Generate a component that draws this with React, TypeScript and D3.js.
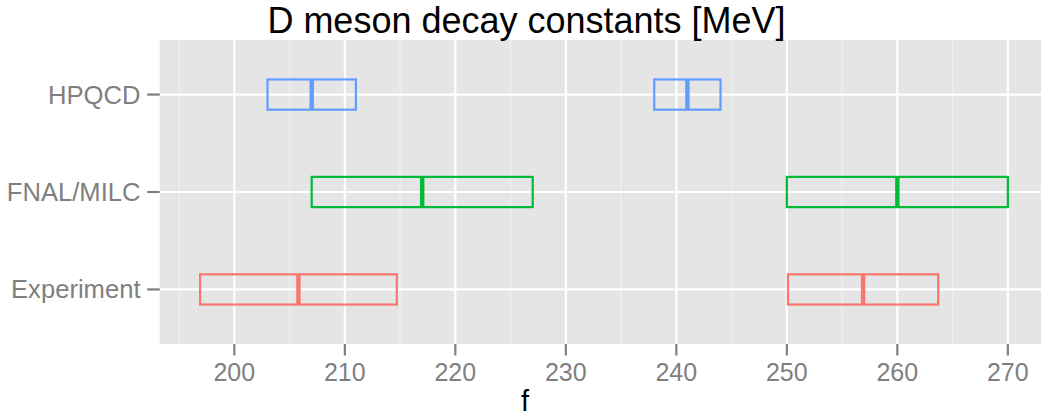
import { useEffect, useRef } from 'react';
import * as d3 from 'd3';

const categories = ['Experiment', 'FNAL/MILC', 'HPQCD'];
const colors = ['#F8766D', '#00BA38', '#619CFF'];

// f_D and f_Ds: central value and error per source
const fdCentral = [205.8, 217, 207];
const fdError = [8.9, 10, 4];
const fdsCentral = [256.9, 260, 241];
const fdsError = [6.8, 10, 3];

const xTicks = [200, 210, 220, 230, 240, 250, 260, 270];
const xMinorTicks = [195, 205, 215, 225, 235, 245, 255, 265];

interface Bar {
  cat: string;
  color: string;
  mid: number;
  lo: number;
  hi: number;
}

export default function App() {
  const svgRef = useRef<SVGSVGElement>(null);

  useEffect(() => {
    if (!svgRef.current) return;
    const width = 1041;
    const height = 419;
    const left = 159.7;
    const top = 40;
    const bottom = 344;

    const bars: Bar[] = [];
    categories.forEach((cat, i) => {
      bars.push({ cat, color: colors[i], mid: fdCentral[i], lo: fdCentral[i] - fdError[i], hi: fdCentral[i] + fdError[i] });
      bars.push({ cat, color: colors[i], mid: fdsCentral[i], lo: fdsCentral[i] - fdsError[i], hi: fdsCentral[i] + fdsError[i] });
    });

    const lo = d3.min(bars, (d) => d.lo)!;
    const hi = d3.max(bars, (d) => d.hi)!;
    const pad = (hi - lo) * 0.05;

    const x = d3.scaleLinear()
      .domain([lo - pad, hi + pad])
      .range([left, left + (hi - lo + 2 * pad) * 11.05]);

    const y = d3.scalePoint<string>()
      .domain(categories)
      .range([bottom, top])
      .padding(0.56);

    const boxH = y.step() * 0.31;

    const svg = d3.select(svgRef.current);
    svg.selectAll('*').remove();
    svg.attr('width', width).attr('height', height);

    svg.append('rect')
      .attr('width', width).attr('height', height).attr('fill', '#fff');

    svg.append('rect')
      .attr('x', left).attr('y', top)
      .attr('width', x.range()[1] - left).attr('height', bottom - top)
      .attr('fill', '#E5E5E5');

    const g = svg.append('g');

    g.selectAll('line.minor')
      .data(xMinorTicks)
      .join('line')
      .attr('x1', (d) => x(d)).attr('x2', (d) => x(d))
      .attr('y1', top).attr('y2', bottom)
      .attr('stroke', '#F2F2F2').attr('stroke-width', 1);

    g.selectAll('line.majorx')
      .data(xTicks)
      .join('line')
      .attr('x1', (d) => x(d)).attr('x2', (d) => x(d))
      .attr('y1', top).attr('y2', bottom)
      .attr('stroke', '#fff').attr('stroke-width', 2.2);

    g.selectAll('line.majory')
      .data(categories)
      .join('line')
      .attr('x1', left).attr('x2', x.range()[1])
      .attr('y1', (d) => y(d)!).attr('y2', (d) => y(d)!)
      .attr('stroke', '#fff').attr('stroke-width', 2.2);

    const bg = g.selectAll('g.bar')
      .data(bars)
      .join('g');

    bg.append('rect')
      .attr('x', (d) => x(d.lo))
      .attr('y', (d) => y(d.cat)! - boxH / 2)
      .attr('width', (d) => x(d.hi) - x(d.lo))
      .attr('height', boxH)
      .attr('fill', 'none')
      .attr('stroke', (d) => d.color)
      .attr('stroke-width', 2.2);

    bg.append('line')
      .attr('x1', (d) => x(d.mid)).attr('x2', (d) => x(d.mid))
      .attr('y1', (d) => y(d.cat)! - boxH / 2)
      .attr('y2', (d) => y(d.cat)! + boxH / 2)
      .attr('stroke', (d) => d.color)
      .attr('stroke-width', 4.4);

    // x axis
    const xa = svg.append('g');
    xa.selectAll('line')
      .data(xTicks)
      .join('line')
      .attr('x1', (d) => x(d)).attr('x2', (d) => x(d))
      .attr('y1', bottom).attr('y2', bottom + 11.5)
      .attr('stroke', '#7F7F7F').attr('stroke-width', 2.2);
    xa.selectAll('text')
      .data(xTicks)
      .join('text')
      .attr('x', (d) => x(d)).attr('y', 381)
      .attr('text-anchor', 'middle')
      .attr('font-size', 25)
      .attr('fill', '#7F7F7F')
      .text((d) => d);

    // y axis
    const ya = svg.append('g');
    ya.selectAll('line')
      .data(categories)
      .join('line')
      .attr('x1', left - 12.5).attr('x2', left)
      .attr('y1', (d) => y(d)!).attr('y2', (d) => y(d)!)
      .attr('stroke', '#7F7F7F').attr('stroke-width', 2.2);
    ya.selectAll('text')
      .data(categories)
      .join('text')
      .attr('x', 140.5).attr('y', (d) => y(d)! + 9)
      .attr('text-anchor', 'end')
      .attr('font-size', 25.6)
      .attr('fill', '#7F7F7F')
      .text((d) => d);

    svg.append('text')
      .attr('x', 526.5).attr('y', 33)
      .attr('text-anchor', 'middle')
      .attr('font-size', 36)
      .attr('fill', '#000')
      .text('D meson decay constants [MeV]');

    svg.append('text')
      .attr('x', 525).attr('y', 411)
      .attr('text-anchor', 'middle')
      .attr('font-size', 29)
      .attr('fill', '#000')
      .text('f');
  }, []);

  return (
    <div style={{ position: 'fixed', left: 0, top: 0, width: 1041, height: 419, overflow: 'hidden' }}>
      <svg ref={svgRef} style={{ display: 'block', fontFamily: '"Liberation Sans", Arial, Helvetica, sans-serif' }} />
    </div>
  );
}
